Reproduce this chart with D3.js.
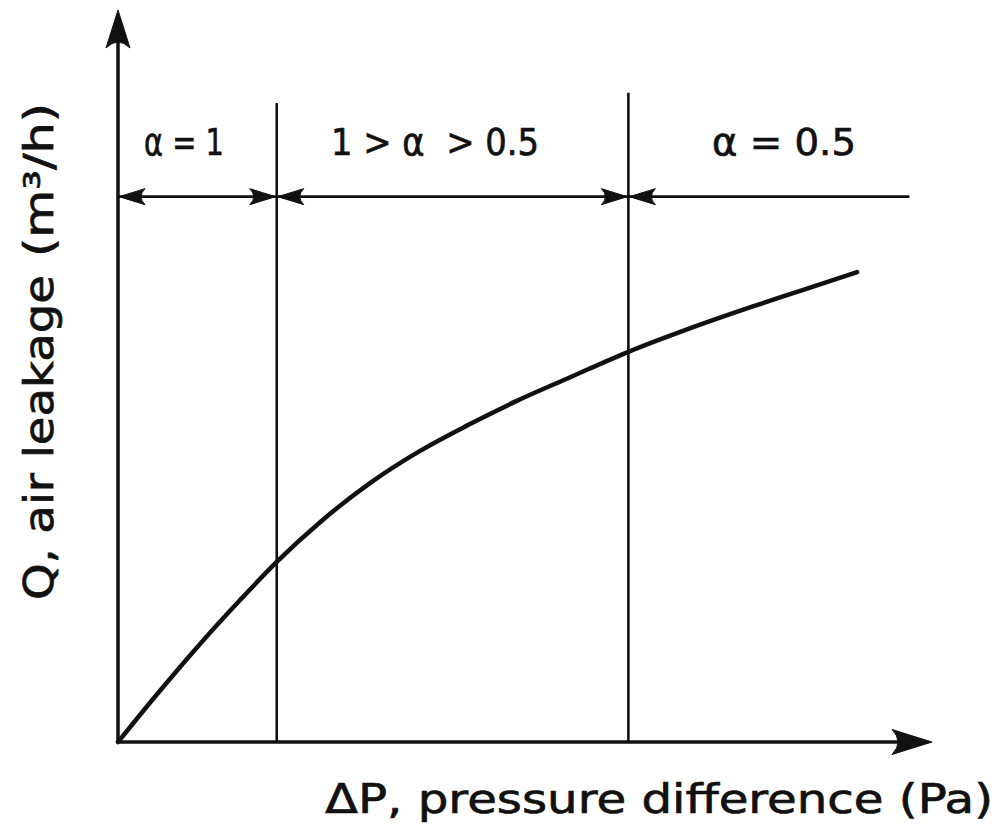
<!DOCTYPE html>
<html><head><meta charset="utf-8">
<script src="https://cdn.jsdelivr.net/npm/d3@7"></script>
<style>body{margin:0;background:#fff}svg{display:block}text{white-space:pre}</style>
</head><body><svg id="c" width="1004" height="831"></svg>
<script>
// ---- data (arbitrary units) ----
const pressure = [0, 5, 10, 15, 19.5, 25, 31, 37, 43, 49, 55.5, 62.7, 70, 78, 84, 90.8];
const leakage  = [0, 6.8, 13.3, 19.4, 24.6, 30.2, 35.4, 39.7, 43.3, 46.6, 49.8, 53.3, 56.4, 59.5, 61.7, 64.2];
const boundaries = [19.5, 62.7];           // regime boundaries (x)
const boundaryTops = [87.3, 88.7];         // top of each boundary line (y)
const dimLevel = 74.5;                      // y of the dimension line
const dimEnd = 97.1;                        // x end of the dimension line
const regionLabels = ["α = 1", "1 > α  > 0.5", "α = 0.5"];
const xLabel = "ΔP, pressure difference (Pa)";
const yLabelMain = "Q, air leakage";
const yLabelUnit = "(m³/h)";

const svg = d3.select("#c");
const x = d3.scaleLinear().domain([0, 100]).range([118, 932]);
const y = d3.scaleLinear().domain([0, 100]).range([742, 10]);
const ink = "#111";

function arrow(tx, ty, angleDeg, L, W, notch) {
  const p = `M0,0 L${-L},${-W} Q${-L + notch},0 ${-L},${W} Z`;
  svg.append("path").attr("d", p)
    .attr("transform", `translate(${tx},${ty}) rotate(${angleDeg})`)
    .attr("fill", ink).attr("stroke", ink).attr("stroke-width", 1).attr("stroke-linejoin", "round");
}

// axes
svg.append("line").attr("x1", x(0)).attr("y1", y(0)).attr("x2", x(0)).attr("y2", y(100) + 20)
  .attr("stroke", ink).attr("stroke-width", 3.5);
svg.append("line").attr("x1", x(0) - 1.5).attr("y1", y(0)).attr("x2", x(100) - 20).attr("y2", y(0))
  .attr("stroke", ink).attr("stroke-width", 3.5);
arrow(x(0), y(100), -90, 38, 12, 12);
arrow(x(100), y(0), 0, 40, 12.5, 12);

// boundary lines
svg.selectAll("line.bnd").data(boundaries).join("line").attr("class", "bnd")
  .attr("x1", d => x(d)).attr("x2", d => x(d))
  .attr("y1", y(0)).attr("y2", (d, i) => y(boundaryTops[i]))
  .attr("stroke", ink).attr("stroke-width", 2.6);

// dimension line
svg.append("line").attr("x1", x(0)).attr("x2", x(dimEnd))
  .attr("y1", y(dimLevel)).attr("y2", y(dimLevel))
  .attr("stroke", ink).attr("stroke-width", 2.6).attr("stroke-linecap", "round");
const dy = y(dimLevel);
arrow(x(0) + 1, dy, 180, 26, 8, 8);
boundaries.forEach(b => {
  arrow(x(b) - 1, dy, 0, 26, 8, 8);
  arrow(x(b) + 1, dy, 180, 26, 8, 8);
});

// curve
const pts = pressure.map((p, i) => [p, leakage[i]]);
svg.append("path").datum(pts)
  .attr("d", d3.line().x(d => x(d[0])).y(d => y(d[1])).curve(d3.curveMonotoneX))
  .attr("fill", "none").attr("stroke", ink).attr("stroke-width", 4.5)
  .attr("stroke-linecap", "round").attr("stroke-linejoin", "round");

// region labels
const font = "'DejaVu Sans', sans-serif";
const labelPos = [[144, 80], [331, 208], [712, 144]];
svg.selectAll("text.reg").data(regionLabels).join("text").attr("class", "reg")
  .attr("x", (d, i) => labelPos[i][0]).attr("y", 155)
  .attr("textLength", (d, i) => labelPos[i][1]).attr("lengthAdjust", "spacingAndGlyphs")
  .attr("font-family", font).attr("font-size", 38).attr("fill", ink)
  .attr("stroke", ink).attr("stroke-width", 0.7)
  .text(d => d);

// axis titles
svg.append("text").attr("x", 325).attr("y", 813)
  .attr("textLength", 668).attr("lengthAdjust", "spacingAndGlyphs")
  .attr("font-family", font).attr("font-size", 41).attr("fill", ink)
  .attr("stroke", ink).attr("stroke-width", 0.7).text(xLabel);
const yl = svg.append("g").attr("transform", "translate(53,600) rotate(-90)");
yl.append("text").attr("x", 0).attr("y", 0)
  .attr("textLength", 325).attr("lengthAdjust", "spacingAndGlyphs")
  .attr("font-family", font).attr("font-size", 41).attr("fill", ink)
  .attr("stroke", ink).attr("stroke-width", 0.7).text(yLabelMain);
yl.append("text").attr("x", 343).attr("y", 0)
  .attr("textLength", 154).attr("lengthAdjust", "spacingAndGlyphs")
  .attr("font-family", font).attr("font-size", 41).attr("fill", ink)
  .attr("stroke", ink).attr("stroke-width", 0.7).text(yLabelUnit);
</script>
</body></html>
